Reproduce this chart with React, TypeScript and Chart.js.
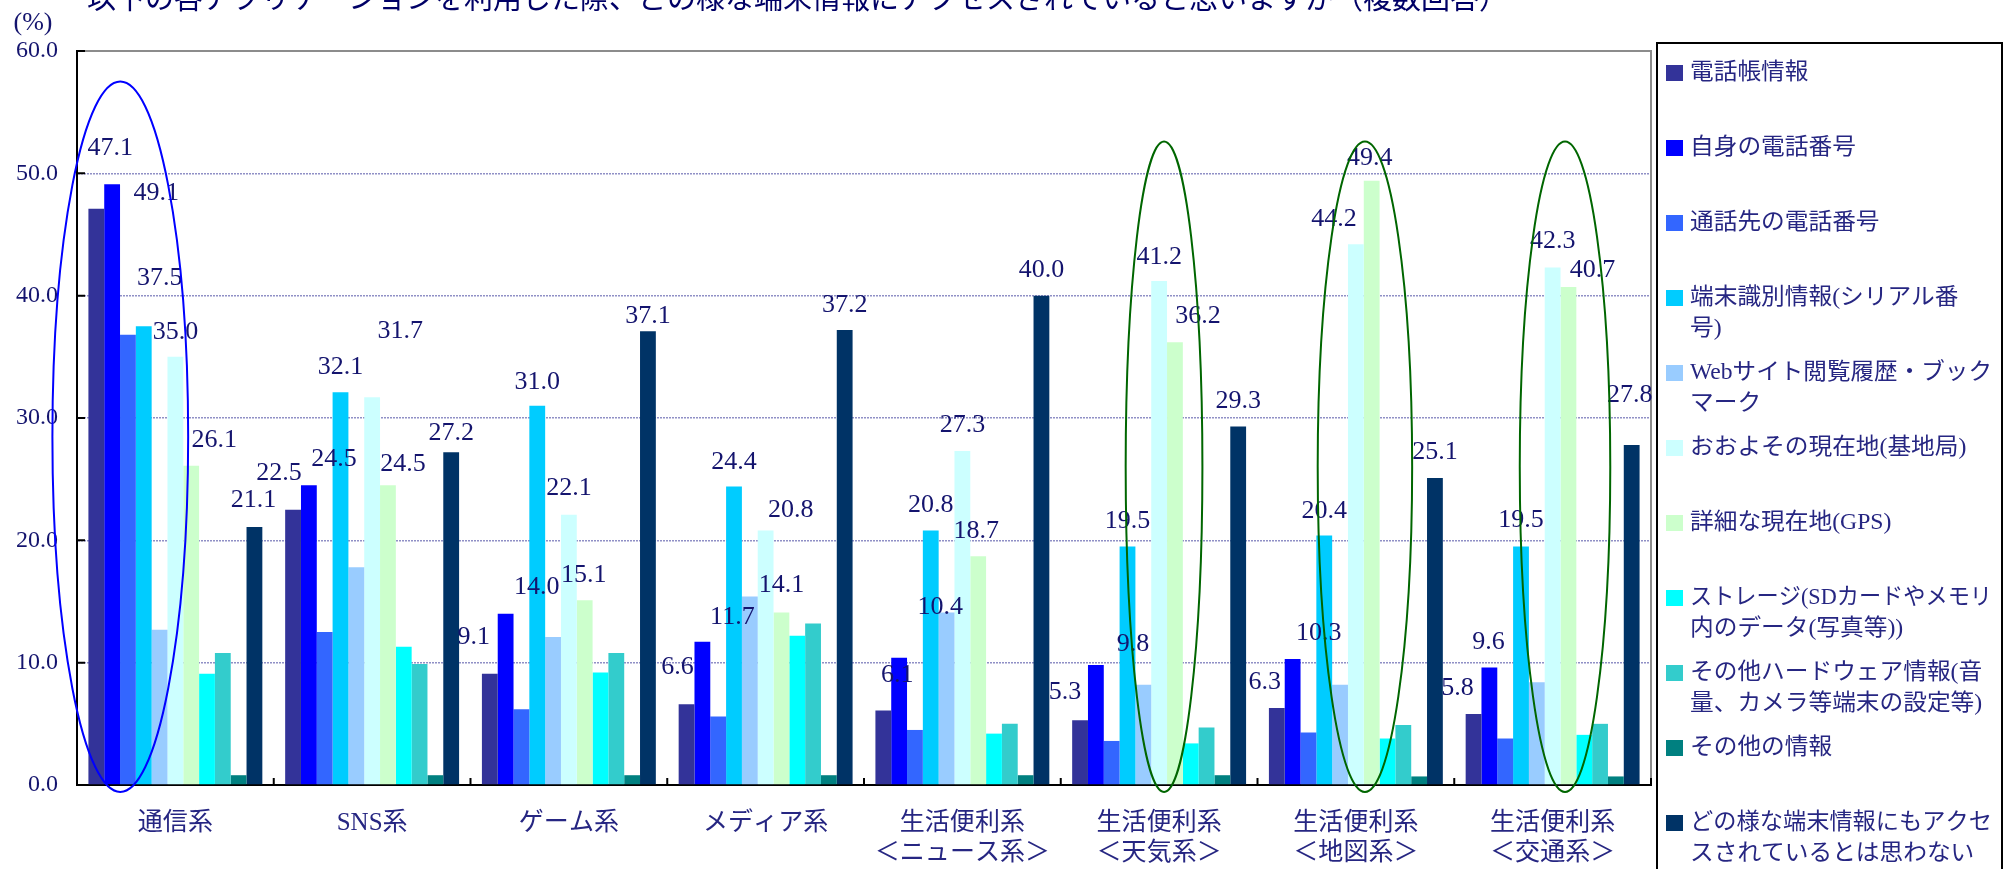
import React, { useEffect, useRef } from 'react';
import { Chart, registerables } from 'chart.js';

Chart.register(...registerables);

// ---- data ----
const categories: string[][] = [
  ['通信系'],
  ['SNS系'],
  ['ゲーム系'],
  ['メディア系'],
  ['生活便利系', '＜ニュース系＞'],
  ['生活便利系', '＜天気系＞'],
  ['生活便利系', '＜地図系＞'],
  ['生活便利系', '＜交通系＞'],
];

const seriesNames = [
  '電話帳情報',
  '自身の電話番号',
  '通話先の電話番号',
  '端末識別情報(シリアル番号)',
  'Webサイト閲覧履歴・ブックマーク',
  'おおよその現在地(基地局)',
  '詳細な現在地(GPS)',
  'ストレージ(SDカードやメモリ内のデータ(写真等))',
  'その他ハードウェア情報(音量、カメラ等端末の設定等)',
  'その他の情報',
  'どの様な端末情報にもアクセスされているとは思わない',
];

const legendLines: string[][] = [
  ['電話帳情報'],
  ['自身の電話番号'],
  ['通話先の電話番号'],
  ['端末識別情報(シリアル番', '号)'],
  ['Webサイト閲覧履歴・ブック', 'マーク'],
  ['おおよその現在地(基地局)'],
  ['詳細な現在地(GPS)'],
  ['ストレージ(SDカードやメモリ', '内のデータ(写真等))'],
  ['その他ハードウェア情報(音', '量、カメラ等端末の設定等)'],
  ['その他の情報'],
  ['どの様な端末情報にもアクセ', 'スされているとは思わない'],
];

const phonebook = [47.1, 22.5, 9.1, 6.6, 6.1, 5.3, 6.3, 5.8];
const ownNumber = [49.1, 24.5, 14.0, 11.7, 10.4, 9.8, 10.3, 9.6];
const callPartner = [36.8, 12.5, 6.2, 5.6, 4.5, 3.6, 4.3, 3.8];
const deviceId = [37.5, 32.1, 31.0, 24.4, 20.8, 19.5, 20.4, 19.5];
const webHistory = [12.7, 17.8, 12.1, 15.4, 14.1, 8.2, 8.2, 8.4];
const roughLocation = [35.0, 31.7, 22.1, 20.8, 27.3, 41.2, 44.2, 42.3];
const gpsLocation = [26.1, 24.5, 15.1, 14.1, 18.7, 36.2, 49.4, 40.7];
const storage = [9.1, 11.3, 9.2, 12.2, 4.2, 3.4, 3.8, 4.1];
const otherHardware = [10.8, 9.9, 10.8, 13.2, 5.0, 4.7, 4.9, 5.0];
const otherInfo = [0.8, 0.8, 0.8, 0.8, 0.8, 0.8, 0.7, 0.7];
const noAccess = [21.1, 27.2, 37.1, 37.2, 40.0, 29.3, 25.1, 27.8];

const seriesValues = [
  phonebook, ownNumber, callPartner, deviceId, webHistory,
  roughLocation, gpsLocation, storage, otherHardware, otherInfo, noAccess,
];

const seriesColors = [
  '#333399', '#0000FF', '#3366FF', '#00CCFF', '#99CCFF',
  '#CCFFFF', '#CCFFCC', '#00FFFF', '#33CCCC', '#008080', '#003366',
];

const yTickValues = [0, 10, 20, 30, 40, 50, 60];

const titleText = '以下の各アプリケーションを利用した際、どの様な端末情報にアクセスされていると思いますか（複数回答）';
const unitText = '(%)';

// ---- styling of data labels (pixel offsets from bar top centre) ----
const labelOffsets: (number[][] | null)[] = [
  [[14, -61], [-14, -37], [-16, -37], [-9, -37], [14, -35], [-15, -28], [-12, -26], [-16, -26]],
  [[44, 9], [25, -26], [31, -27], [30, -25], [41, -51], [37, -21], [26, -26], [-1, -25]],
  null,
  [[16, -48], [0, -25], [0, -24], [0, -24], [0, -25], [0, -25], [0, -24], [0, -26]],
  null,
  [[0, -25], [28, -66], [0, -26], [25, -20], [0, -26], [0, -24], [-22, -25], [0, -26]],
  [[23, -26], [15, -21], [-1, -25], [0, -27], [-2, -25], [23, -26], [-2, -23], [24, -17]],
  null,
  null,
  null,
  [[-1, -27], [0, -19], [0, -15], [0, -25], [0, -25], [0, -25], [0, -26], [-2, -50]],
];

// highlight ellipses: centre in category units, vertical extent in value units
const ellipses = [
  { cx: -0.28, rx: 0.345, top: 57.5, bottom: -0.57, color: '#0000FF' },
  { cx: 5.025, rx: 0.195, top: 52.6, bottom: -0.57, color: '#006600' },
  { cx: 6.046, rx: 0.24, top: 52.6, bottom: -0.57, color: '#006600' },
  { cx: 7.063, rx: 0.23, top: 52.6, bottom: -0.57, color: '#006600' },
];

const NAVY = '#14146e';
const SERIF_CJK = "'Liberation Serif', 'Noto Sans CJK JP'";

const decorPlugin = {
  id: 'decor',
  afterDraw(chart: any) {
    const { ctx, chartArea: a, scales } = chart;
    const x = scales.x;
    const y = scales.y;
    ctx.save();

    // top and right frame
    ctx.strokeStyle = '#8c8c8c';
    ctx.lineWidth = 2;
    ctx.beginPath();
    ctx.moveTo(a.left, a.top);
    ctx.lineTo(a.right, a.top);
    ctx.lineTo(a.right, a.bottom);
    ctx.stroke();

    // inward tick marks
    ctx.strokeStyle = '#000';
    ctx.lineWidth = 2;
    ctx.beginPath();
    y.ticks.forEach((t: any) => {
      const py = y.getPixelForValue(t.value);
      ctx.moveTo(a.left, py);
      ctx.lineTo(a.left + 8, py);
    });
    for (let i = 0; i <= categories.length; i++) {
      const px = x.getPixelForValue(i - 0.5);
      ctx.moveTo(px, a.bottom);
      ctx.lineTo(px, a.bottom - 7);
    }
    ctx.stroke();

    // data labels
    ctx.fillStyle = NAVY;
    ctx.font = "26px 'Liberation Serif'";
    ctx.textAlign = 'center';
    ctx.textBaseline = 'middle';
    labelOffsets.forEach((offs, d) => {
      if (!offs) return;
      const meta = chart.getDatasetMeta(d);
      meta.data.forEach((bar: any, i: number) => {
        const [dx, dy] = offs[i];
        ctx.fillText(seriesValues[d][i].toFixed(1), bar.x + dx, bar.y + dy);
      });
    });

    // ellipses
    ellipses.forEach((e) => {
      const cx = x.getPixelForValue(e.cx);
      const rx = x.getPixelForValue(e.cx + e.rx) - cx;
      const yt = y.getPixelForValue(e.top);
      const yb = y.getPixelForValue(e.bottom);
      ctx.strokeStyle = e.color;
      ctx.lineWidth = 2;
      ctx.beginPath();
      ctx.ellipse(cx, (yt + yb) / 2, rx, (yb - yt) / 2, 0, 0, Math.PI * 2);
      ctx.stroke();
    });

    // title (cut at the top edge)
    ctx.fillStyle = '#000066';
    ctx.font = "29px 'Noto Sans CJK JP'";
    ctx.textAlign = 'left';
    ctx.textBaseline = 'middle';
    ctx.fillText(titleText, 87, -2);

    // unit
    ctx.fillStyle = NAVY;
    ctx.font = "26px 'Liberation Serif'";
    ctx.textAlign = 'center';
    ctx.fillText(unitText, 33, 23);

    // legend
    const lx = 1657, ly = 43, lw = 345;
    const maxTextW = 302;
    ctx.strokeStyle = '#000';
    ctx.lineWidth = 2;
    ctx.strokeRect(lx, ly, lw, 900);
    ctx.textAlign = 'left';
    ctx.textBaseline = 'middle';
    legendLines.forEach((lines, i) => {
      const cy = 73 + i * 75;
      ctx.fillStyle = seriesColors[i];
      ctx.fillRect(lx + 9, cy - 8, 17, 16);
      ctx.fillStyle = '#262682';
      ctx.font = '23px ' + SERIF_CJK;
      lines.forEach((ln, k) => {
        const w = ctx.measureText(ln).width;
        const sx = Math.min(1.03, maxTextW / w);
        ctx.save();
        ctx.translate(lx + 33, cy + k * 31);
        ctx.scale(sx, 1);
        ctx.fillText(ln, 0, 0);
        ctx.restore();
      });
    });

    ctx.restore();
  },
};

export default function App() {
  const canvasRef = useRef<HTMLCanvasElement | null>(null);

  useEffect(() => {
    const canvas = canvasRef.current;
    if (!canvas) return;
    const chart = new Chart(canvas, {
      type: 'bar',
      data: {
        labels: categories,
        datasets: seriesValues.map((vals, i) => ({
          label: seriesNames[i],
          data: vals,
          backgroundColor: seriesColors[i],
          borderWidth: 0,
          categoryPercentage: 0.884,
          barPercentage: 1.0,
        })),
      },
      options: {
        responsive: false,
        animation: false,
        devicePixelRatio: 1,
        layout: { padding: { top: 51, right: 361, left: 0, bottom: 0 } },
        plugins: {
          legend: { display: false },
          tooltip: { enabled: false },
          title: { display: false },
        },
        scales: {
          x: {
            grid: { display: false, drawTicks: false },
            border: { display: true, color: '#000', width: 2 },
            ticks: {
              color: '#262682',
              font: { family: SERIF_CJK, size: 25, lineHeight: 1.2 },
              padding: 23,
              maxRotation: 0,
              autoSkip: false,
            },
            afterFit: (s: any) => { s.height = 84; },
          },
          y: {
            min: yTickValues[0],
            max: yTickValues[yTickValues.length - 1],
            afterBuildTicks: (s: any) => { s.ticks = yTickValues.map((v) => ({ value: v })); },
            grid: {
              drawTicks: false,
              color: (c: any) => (c.tick && (c.tick.value === 0 || c.tick.value === 60) ? 'rgba(0,0,0,0)' : 'rgba(70,70,160,0.6)'),
              lineWidth: 1.5,
            },
            border: { display: true, color: '#000', width: 2, dash: [2, 1] },
            ticks: {
              color: NAVY,
              font: { family: 'Liberation Serif', size: 24 },
              padding: 19,
              callback: (v: any) => Number(v).toFixed(1),
            },
            afterFit: (s: any) => { s.width = 77; },
          },
        },
      },
      plugins: [decorPlugin],
    });
    return () => chart.destroy();
  }, []);

  return (
    <div style={{ position: 'absolute', left: 0, top: 0, width: 2012, height: 869, background: '#fff' }}>
      <canvas ref={canvasRef} width={2012} height={869} style={{ display: 'block' }} />
    </div>
  );
}
